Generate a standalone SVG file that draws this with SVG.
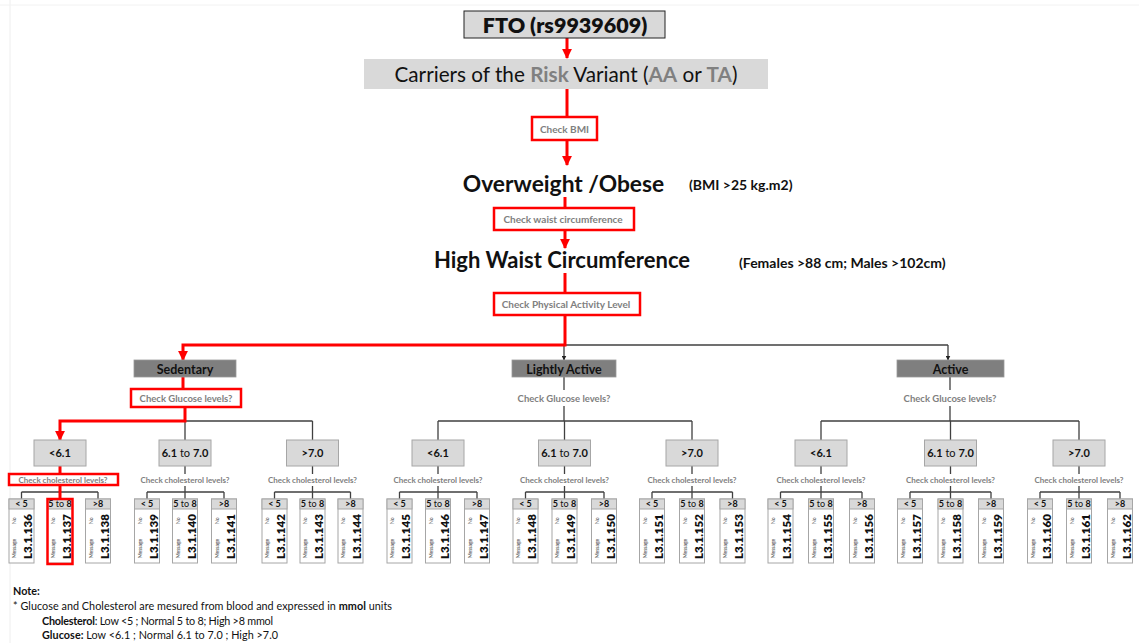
<svg xmlns="http://www.w3.org/2000/svg" width="1139" height="643" viewBox="0 0 1139 643">
<style>
text{font-family:Lato,"Liberation Sans",sans-serif;}
.red{stroke:#ff0000;stroke-width:3;fill:none}
.rbox{fill:#ffffff;stroke:#ff0000;stroke-width:2.5}
.blk{stroke:#404040;stroke-width:1.3;fill:none}
.chk{font-size:10px;font-weight:700;fill:#808080;text-anchor:middle}
.chkg{font-size:9.5px;font-weight:700;fill:#808080;text-anchor:middle}
.chkc{font-size:8px;font-weight:700;fill:#808080;text-anchor:middle}
.act{fill:#7f7f7f;stroke:#9a9a9a;stroke-width:0.8}
.actt{font-size:12.5px;font-weight:700;fill:#111;text-anchor:middle}
.gbox{fill:#d9d9d9;stroke:#a6a6a6;stroke-width:1}
.gt{font-size:11px;font-weight:700;fill:#111;text-anchor:middle}
.nb{font-weight:400}
.lb{fill:#ffffff;stroke:#a6a6a6;stroke-width:1}
.lh{fill:#d9d9d9;stroke:#a6a6a6;stroke-width:1}
.lht{font-size:9px;font-weight:700;fill:#111;text-anchor:middle}
.tiny{font-size:5px;fill:#333}
.code{font-size:11.5px;font-weight:800;fill:#111}
.hl{fill:none;stroke:#ff0000;stroke-width:2.5}
.note{font-size:10.8px;fill:#111}
</style>
<defs>
<marker id="ar" viewBox="0 0 10 10" refX="9" refY="5" markerWidth="3.3" markerHeight="3.3" orient="auto" markerUnits="strokeWidth"><path d="M0,0 L10,5 L0,10 z" fill="#ff0000"/></marker>
<marker id="ab" viewBox="0 0 10 10" refX="9" refY="5" markerWidth="5" markerHeight="5" orient="auto" markerUnits="userSpaceOnUse"><path d="M0,0 L10,5 L0,10 z" fill="#222"/></marker>
</defs>
<rect width="1139" height="643" fill="#ffffff"/>
<line x1="10" y1="0" x2="10" y2="643" stroke="#eeeeee" stroke-width="1"/>
<line x1="0" y1="5" x2="1139" y2="5" stroke="#f2f2f2" stroke-width="1"/>

<g id="connectors">
<path class="blk" d="M565,345 L948,345"/>
<path class="blk" d="M564,345 L564,360" marker-end="url(#ab)"/>
<path class="blk" d="M948,345 L948,360" marker-end="url(#ab)"/>
<path class="blk" d="M185,421 L312.5,421 M185,421 L185,440 M312.5,421 L312.5,440"/>
<path class="blk" d="M564,377 L564,390 M564,406 L564,421 M438,421 L692,421 M438,421 L438,440 M564.5,421 L564.5,440 M692,421 L692,440"/>
<path class="blk" d="M950,377 L950,390 M950,406 L950,421 M821,421 L1079,421 M821,421 L821,440 M950.5,421 L950.5,440 M1079,421 L1079,440"/>
<path class="blk" d="M21.5,492 L98,492 M21.5,492 L21.5,499 M98,492 L98,499"/>
<path class="blk" d="M185,466 L185,474 M185,486 L185,492 M147,492 L224,492 M147,492 L147,499 M185,492 L185,499 M224,492 L224,499"/>
<path class="blk" d="M312.5,466 L312.5,474 M312.5,486 L312.5,492 M274.5,492 L350.5,492 M274.5,492 L274.5,499 M312.5,492 L312.5,499 M350.5,492 L350.5,499"/>
<path class="blk" d="M438,466 L438,474 M438,486 L438,492 M399.5,492 L477,492 M399.5,492 L399.5,499 M438,492 L438,499 M477,492 L477,499"/>
<path class="blk" d="M564.5,466 L564.5,474 M564.5,486 L564.5,492 M525.5,492 L604,492 M525.5,492 L525.5,499 M564.5,492 L564.5,499 M604,492 L604,499"/>
<path class="blk" d="M692,466 L692,474 M692,486 L692,492 M652,492 L732.5,492 M652,492 L652,499 M692,492 L692,499 M732.5,492 L732.5,499"/>
<path class="blk" d="M821,466 L821,474 M821,486 L821,492 M780.5,492 L862,492 M780.5,492 L780.5,499 M821,492 L821,499 M862,492 L862,499"/>
<path class="blk" d="M950.5,466 L950.5,474 M950.5,486 L950.5,492 M910,492 L991,492 M910,492 L910,499 M950.5,492 L950.5,499 M991,492 L991,499"/>
<path class="blk" d="M1079,466 L1079,474 M1079,486 L1079,492 M1040,492 L1120,492 M1040,492 L1040,499 M1079,492 L1079,499 M1120,492 L1120,499"/>
<path class="red" d="M567,37 L567,58" marker-end="url(#ar)"/>
<path class="red" d="M567,89 L567,117"/>
<path class="red" d="M567,140 L567,165" marker-end="url(#ar)"/>
<path class="red" d="M565,197 L565,208"/>
<path class="red" d="M565,230 L565,248" marker-end="url(#ar)"/>
<path class="red" d="M565,273 L565,293"/>
<path class="red" d="M565,315 L565,345 L183,345 L183,360" marker-end="url(#ar)"/>
<path class="red" d="M183,377 L183,389"/>
<path class="red" d="M185,407 L185,421 L60,421 L60,440" marker-end="url(#ar)"/>
<path class="red" d="M60,466 L60,474"/>
<path class="red" d="M60,485 L60,499"/>
</g>

<g id="fto">
<rect x="464" y="11" width="201" height="27" fill="#d9d9d9" stroke="#222" stroke-width="1"/>
<text x="565" y="33" font-size="21.5" font-weight="800" text-anchor="middle" fill="#111">FTO (rs9939609)</text>
</g>
<g id="carriers">
<rect x="364" y="59" width="404" height="30" fill="#d9d9d9"/>
<text x="566" y="82" font-size="20.7" text-anchor="middle" fill="#111">Carriers of the <tspan font-weight="700" fill="#808080">Risk</tspan> Variant (<tspan font-weight="700" fill="#808080">AA</tspan> or <tspan font-weight="700" fill="#808080">TA</tspan>)</text>
</g>
<g id="check-bmi">
<rect class="rbox" x="532" y="117" width="65" height="23"/>
<text class="chk" x="564.5" y="132.5">Check BMI</text>
</g>
<g id="overweight">
<text x="563.5" y="192" font-size="22.8" font-weight="700" text-anchor="middle" fill="#111">Overweight /Obese</text>
<text x="689" y="190" font-size="14" font-weight="700" fill="#111">(BMI &gt;25 kg.m2)</text>
</g>
<g id="check-waist">
<rect class="rbox" x="494" y="208" width="140" height="22"/>
<text class="chk" x="563" y="222.5">Check waist circumference</text>
</g>
<g id="high-waist">
<text x="562" y="268" font-size="22" font-weight="700" text-anchor="middle" fill="#111">High Waist Circumference</text>
<text x="739" y="268" font-size="14" font-weight="700" fill="#111">(Females &gt;88 cm; Males &gt;102cm)</text>
</g>
<g id="check-activity">
<rect class="rbox" x="494" y="293" width="146" height="22"/>
<text class="chk" x="566" y="307.5">Check Physical Activity Level</text>
</g>

<g id="sedentary">
<rect class="act" x="134" y="360" width="102" height="17"/>
<text class="actt" x="185" y="373.5">Sedentary</text>
<rect class="rbox" x="131" y="389" width="110" height="18"/>
<text class="chkg" x="186" y="401.5">Check Glucose levels?</text>
</g>
<g id="lightly-active">
<rect class="act" x="512" y="360" width="104" height="17"/>
<text class="actt" x="564" y="373.5">Lightly Active</text>
<text class="chkg" x="564" y="401.5">Check Glucose levels?</text>
</g>
<g id="active">
<rect class="act" x="897" y="360" width="107" height="17"/>
<text class="actt" x="950.5" y="373.5">Active</text>
<text class="chkg" x="950" y="401.5">Check Glucose levels?</text>
</g>

<g id="glucose-sed-low"><rect class="gbox" x="34" y="440" width="52" height="26"/><text class="gt" x="60" y="457">&lt;6.1</text>
<rect class="rbox" x="9" y="474" width="109" height="11"/><text class="chkc" x="63" y="482.5">Check cholesterol levels?</text></g>
<g id="glucose-sed-mid"><rect class="gbox" x="159" y="440" width="52" height="26"/><text class="gt" x="185" y="457">6.1<tspan class="nb"> to </tspan>7.0</text><text class="chkc" x="185" y="482.5">Check cholesterol levels?</text></g>
<g id="glucose-sed-high"><rect class="gbox" x="286.5" y="440" width="52" height="26"/><text class="gt" x="312.5" y="457">&gt;7.0</text><text class="chkc" x="312.5" y="482.5">Check cholesterol levels?</text></g>
<g id="glucose-la-low"><rect class="gbox" x="412" y="440" width="52" height="26"/><text class="gt" x="438" y="457">&lt;6.1</text><text class="chkc" x="438" y="482.5">Check cholesterol levels?</text></g>
<g id="glucose-la-mid"><rect class="gbox" x="538.5" y="440" width="52" height="26"/><text class="gt" x="564.5" y="457">6.1<tspan class="nb"> to </tspan>7.0</text><text class="chkc" x="564.5" y="482.5">Check cholesterol levels?</text></g>
<g id="glucose-la-high"><rect class="gbox" x="666" y="440" width="52" height="26"/><text class="gt" x="692" y="457">&gt;7.0</text><text class="chkc" x="692" y="482.5">Check cholesterol levels?</text></g>
<g id="glucose-act-low"><rect class="gbox" x="795" y="440" width="52" height="26"/><text class="gt" x="821" y="457">&lt;6.1</text><text class="chkc" x="821" y="482.5">Check cholesterol levels?</text></g>
<g id="glucose-act-mid"><rect class="gbox" x="924.5" y="440" width="52" height="26"/><text class="gt" x="950.5" y="457">6.1<tspan class="nb"> to </tspan>7.0</text><text class="chkc" x="950.5" y="482.5">Check cholesterol levels?</text></g>
<g id="glucose-act-high"><rect class="gbox" x="1053" y="440" width="52" height="26"/><text class="gt" x="1079" y="457">&gt;7.0</text><text class="chkc" x="1079" y="482.5">Check cholesterol levels?</text></g>

<g id="leaf-136" transform="translate(9,499)"><rect class="lb" width="25" height="64"/><rect class="lh" width="25" height="10"/><text class="lht" x="12.5" y="8">&lt; 5</text><text class="tiny" transform="translate(7,25) rotate(-90)">No</text><text class="tiny" transform="translate(7,59) rotate(-90)">Message</text><text class="code" transform="translate(23,60) rotate(-90)">L3.1.136</text></g>
<g id="leaf-137" transform="translate(47.5,499)"><rect class="lb" width="25" height="64"/><rect class="lh" width="25" height="10"/><text class="lht" x="12.5" y="8">5<tspan class="nb"> to </tspan>8</text><text class="tiny" transform="translate(7,25) rotate(-90)">No</text><text class="tiny" transform="translate(7,59) rotate(-90)">Message</text><text class="code" transform="translate(23,60) rotate(-90)">L3.1.137</text><rect class="hl" x="0" y="0" width="25" height="65"/></g>
<g id="leaf-138" transform="translate(85.5,499)"><rect class="lb" width="25" height="64"/><rect class="lh" width="25" height="10"/><text class="lht" x="12.5" y="8">&gt;8</text><text class="tiny" transform="translate(7,25) rotate(-90)">No</text><text class="tiny" transform="translate(7,59) rotate(-90)">Message</text><text class="code" transform="translate(23,60) rotate(-90)">L3.1.138</text></g>
<g id="leaf-139" transform="translate(134.5,499)"><rect class="lb" width="25" height="64"/><rect class="lh" width="25" height="10"/><text class="lht" x="12.5" y="8">&lt; 5</text><text class="tiny" transform="translate(7,25) rotate(-90)">No</text><text class="tiny" transform="translate(7,59) rotate(-90)">Message</text><text class="code" transform="translate(23,60) rotate(-90)">L3.1.139</text></g>
<g id="leaf-140" transform="translate(172.5,499)"><rect class="lb" width="25" height="64"/><rect class="lh" width="25" height="10"/><text class="lht" x="12.5" y="8">5<tspan class="nb"> to </tspan>8</text><text class="tiny" transform="translate(7,25) rotate(-90)">No</text><text class="tiny" transform="translate(7,59) rotate(-90)">Message</text><text class="code" transform="translate(23,60) rotate(-90)">L3.1.140</text></g>
<g id="leaf-141" transform="translate(211.5,499)"><rect class="lb" width="25" height="64"/><rect class="lh" width="25" height="10"/><text class="lht" x="12.5" y="8">&gt;8</text><text class="tiny" transform="translate(7,25) rotate(-90)">No</text><text class="tiny" transform="translate(7,59) rotate(-90)">Message</text><text class="code" transform="translate(23,60) rotate(-90)">L3.1.141</text></g>
<g id="leaf-142" transform="translate(262,499)"><rect class="lb" width="25" height="64"/><rect class="lh" width="25" height="10"/><text class="lht" x="12.5" y="8">&lt; 5</text><text class="tiny" transform="translate(7,25) rotate(-90)">No</text><text class="tiny" transform="translate(7,59) rotate(-90)">Message</text><text class="code" transform="translate(23,60) rotate(-90)">L3.1.142</text></g>
<g id="leaf-143" transform="translate(300,499)"><rect class="lb" width="25" height="64"/><rect class="lh" width="25" height="10"/><text class="lht" x="12.5" y="8">5<tspan class="nb"> to </tspan>8</text><text class="tiny" transform="translate(7,25) rotate(-90)">No</text><text class="tiny" transform="translate(7,59) rotate(-90)">Message</text><text class="code" transform="translate(23,60) rotate(-90)">L3.1.143</text></g>
<g id="leaf-144" transform="translate(338,499)"><rect class="lb" width="25" height="64"/><rect class="lh" width="25" height="10"/><text class="lht" x="12.5" y="8">&gt;8</text><text class="tiny" transform="translate(7,25) rotate(-90)">No</text><text class="tiny" transform="translate(7,59) rotate(-90)">Message</text><text class="code" transform="translate(23,60) rotate(-90)">L3.1.144</text></g>
<g id="leaf-145" transform="translate(387,499)"><rect class="lb" width="25" height="64"/><rect class="lh" width="25" height="10"/><text class="lht" x="12.5" y="8">&lt; 5</text><text class="tiny" transform="translate(7,25) rotate(-90)">No</text><text class="tiny" transform="translate(7,59) rotate(-90)">Message</text><text class="code" transform="translate(23,60) rotate(-90)">L3.1.145</text></g>
<g id="leaf-146" transform="translate(425.5,499)"><rect class="lb" width="25" height="64"/><rect class="lh" width="25" height="10"/><text class="lht" x="12.5" y="8">5<tspan class="nb"> to </tspan>8</text><text class="tiny" transform="translate(7,25) rotate(-90)">No</text><text class="tiny" transform="translate(7,59) rotate(-90)">Message</text><text class="code" transform="translate(23,60) rotate(-90)">L3.1.146</text></g>
<g id="leaf-147" transform="translate(464.5,499)"><rect class="lb" width="25" height="64"/><rect class="lh" width="25" height="10"/><text class="lht" x="12.5" y="8">&gt;8</text><text class="tiny" transform="translate(7,25) rotate(-90)">No</text><text class="tiny" transform="translate(7,59) rotate(-90)">Message</text><text class="code" transform="translate(23,60) rotate(-90)">L3.1.147</text></g>
<g id="leaf-148" transform="translate(513,499)"><rect class="lb" width="25" height="64"/><rect class="lh" width="25" height="10"/><text class="lht" x="12.5" y="8">&lt; 5</text><text class="tiny" transform="translate(7,25) rotate(-90)">No</text><text class="tiny" transform="translate(7,59) rotate(-90)">Message</text><text class="code" transform="translate(23,60) rotate(-90)">L3.1.148</text></g>
<g id="leaf-149" transform="translate(552,499)"><rect class="lb" width="25" height="64"/><rect class="lh" width="25" height="10"/><text class="lht" x="12.5" y="8">5<tspan class="nb"> to </tspan>8</text><text class="tiny" transform="translate(7,25) rotate(-90)">No</text><text class="tiny" transform="translate(7,59) rotate(-90)">Message</text><text class="code" transform="translate(23,60) rotate(-90)">L3.1.149</text></g>
<g id="leaf-150" transform="translate(591.5,499)"><rect class="lb" width="25" height="64"/><rect class="lh" width="25" height="10"/><text class="lht" x="12.5" y="8">&gt;8</text><text class="tiny" transform="translate(7,25) rotate(-90)">No</text><text class="tiny" transform="translate(7,59) rotate(-90)">Message</text><text class="code" transform="translate(23,60) rotate(-90)">L3.1.150</text></g>
<g id="leaf-151" transform="translate(639.5,499)"><rect class="lb" width="25" height="64"/><rect class="lh" width="25" height="10"/><text class="lht" x="12.5" y="8">&lt; 5</text><text class="tiny" transform="translate(7,25) rotate(-90)">No</text><text class="tiny" transform="translate(7,59) rotate(-90)">Message</text><text class="code" transform="translate(23,60) rotate(-90)">L3.1.151</text></g>
<g id="leaf-152" transform="translate(679.5,499)"><rect class="lb" width="25" height="64"/><rect class="lh" width="25" height="10"/><text class="lht" x="12.5" y="8">5<tspan class="nb"> to </tspan>8</text><text class="tiny" transform="translate(7,25) rotate(-90)">No</text><text class="tiny" transform="translate(7,59) rotate(-90)">Message</text><text class="code" transform="translate(23,60) rotate(-90)">L3.1.152</text></g>
<g id="leaf-153" transform="translate(720,499)"><rect class="lb" width="25" height="64"/><rect class="lh" width="25" height="10"/><text class="lht" x="12.5" y="8">&gt;8</text><text class="tiny" transform="translate(7,25) rotate(-90)">No</text><text class="tiny" transform="translate(7,59) rotate(-90)">Message</text><text class="code" transform="translate(23,60) rotate(-90)">L3.1.153</text></g>
<g id="leaf-154" transform="translate(768,499)"><rect class="lb" width="25" height="64"/><rect class="lh" width="25" height="10"/><text class="lht" x="12.5" y="8">&lt; 5</text><text class="tiny" transform="translate(7,25) rotate(-90)">No</text><text class="tiny" transform="translate(7,59) rotate(-90)">Message</text><text class="code" transform="translate(23,60) rotate(-90)">L3.1.154</text></g>
<g id="leaf-155" transform="translate(808.5,499)"><rect class="lb" width="25" height="64"/><rect class="lh" width="25" height="10"/><text class="lht" x="12.5" y="8">5<tspan class="nb"> to </tspan>8</text><text class="tiny" transform="translate(7,25) rotate(-90)">No</text><text class="tiny" transform="translate(7,59) rotate(-90)">Message</text><text class="code" transform="translate(23,60) rotate(-90)">L3.1.155</text></g>
<g id="leaf-156" transform="translate(849.5,499)"><rect class="lb" width="25" height="64"/><rect class="lh" width="25" height="10"/><text class="lht" x="12.5" y="8">&gt;8</text><text class="tiny" transform="translate(7,25) rotate(-90)">No</text><text class="tiny" transform="translate(7,59) rotate(-90)">Message</text><text class="code" transform="translate(23,60) rotate(-90)">L3.1.156</text></g>
<g id="leaf-157" transform="translate(897.5,499)"><rect class="lb" width="25" height="64"/><rect class="lh" width="25" height="10"/><text class="lht" x="12.5" y="8">&lt; 5</text><text class="tiny" transform="translate(7,25) rotate(-90)">No</text><text class="tiny" transform="translate(7,59) rotate(-90)">Message</text><text class="code" transform="translate(23,60) rotate(-90)">L3.1.157</text></g>
<g id="leaf-158" transform="translate(938,499)"><rect class="lb" width="25" height="64"/><rect class="lh" width="25" height="10"/><text class="lht" x="12.5" y="8">5<tspan class="nb"> to </tspan>8</text><text class="tiny" transform="translate(7,25) rotate(-90)">No</text><text class="tiny" transform="translate(7,59) rotate(-90)">Message</text><text class="code" transform="translate(23,60) rotate(-90)">L3.1.158</text></g>
<g id="leaf-159" transform="translate(978.5,499)"><rect class="lb" width="25" height="64"/><rect class="lh" width="25" height="10"/><text class="lht" x="12.5" y="8">&gt;8</text><text class="tiny" transform="translate(7,25) rotate(-90)">No</text><text class="tiny" transform="translate(7,59) rotate(-90)">Message</text><text class="code" transform="translate(23,60) rotate(-90)">L3.1.159</text></g>
<g id="leaf-160" transform="translate(1027.5,499)"><rect class="lb" width="25" height="64"/><rect class="lh" width="25" height="10"/><text class="lht" x="12.5" y="8">&lt; 5</text><text class="tiny" transform="translate(7,25) rotate(-90)">No</text><text class="tiny" transform="translate(7,59) rotate(-90)">Message</text><text class="code" transform="translate(23,60) rotate(-90)">L3.1.160</text></g>
<g id="leaf-161" transform="translate(1066.5,499)"><rect class="lb" width="25" height="64"/><rect class="lh" width="25" height="10"/><text class="lht" x="12.5" y="8">5<tspan class="nb"> to </tspan>8</text><text class="tiny" transform="translate(7,25) rotate(-90)">No</text><text class="tiny" transform="translate(7,59) rotate(-90)">Message</text><text class="code" transform="translate(23,60) rotate(-90)">L3.1.161</text></g>
<g id="leaf-162" transform="translate(1107.5,499)"><rect class="lb" width="25" height="64"/><rect class="lh" width="25" height="10"/><text class="lht" x="12.5" y="8">&gt;8</text><text class="tiny" transform="translate(7,25) rotate(-90)">No</text><text class="tiny" transform="translate(7,59) rotate(-90)">Message</text><text class="code" transform="translate(23,60) rotate(-90)">L3.1.162</text></g>

<g id="note">
<text class="note" x="13" y="595" font-size="10" font-weight="700">Note:</text>
<text class="note" x="13" y="610" textLength="379">* Glucose and Cholesterol are mesured from blood and expressed in <tspan font-weight="700">mmol</tspan> units</text>
<text class="note" x="42" y="624.5" textLength="231"><tspan font-weight="700">Cholesterol</tspan>: Low &lt;5 ; Normal 5 to 8; High &gt;8 mmol</text>
<text class="note" x="42" y="639" textLength="236"><tspan font-weight="700">Glucose:</tspan> Low &lt;6.1 ; Normal 6.1 to 7.0 ; High &gt;7.0</text>
</g>
</svg>
